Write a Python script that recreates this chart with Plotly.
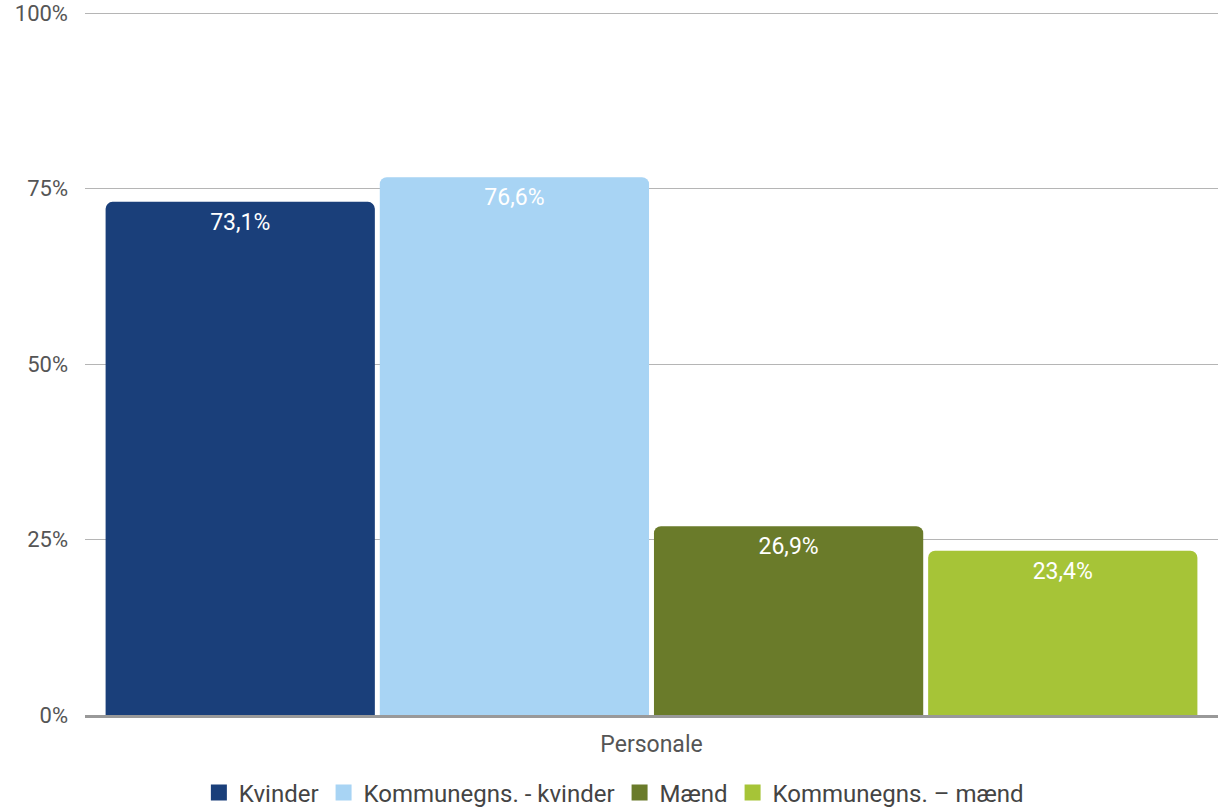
import plotly.graph_objects as go

categories = ["Personale"]
series_names = ["Kvinder", "Kommunegns. - kvinder", "Mænd", "Kommunegns. – mænd"]
series_values = [[73.1], [76.6], [26.9], [23.4]]
colors = ["#1a3f7a", "#a8d4f4", "#6a7b2a", "#a6c437"]
tick_vals = [0, 25, 50, 75, 100]
tick_text = ["0%", "25%", "50%", "75%", "100%"]

fig = go.Figure()
for name, vals, col in zip(series_names, series_values, colors):
    fig.add_trace(go.Bar(
        x=categories, y=vals, name=name, showlegend=False,
        marker=dict(color=col, line=dict(width=0)),
        text=[("%.1f%%" % v).replace(".", ",") for v in vals],
        textposition="inside", insidetextanchor="end",
        textfont=dict(color="white", size=23, family="Roboto"),
        textangle=0,
    ))
for name, col in zip(series_names, colors):
    fig.add_trace(go.Scatter(
        x=categories, y=[None], name=name, mode="markers",
        marker=dict(symbol="square", size=22, color=col),
        showlegend=True,
    ))

fig.update_layout(
    width=1218, height=810,
    margin=dict(l=85, r=0, t=6, b=95),
    paper_bgcolor="white", plot_bgcolor="white",
    barmode="group", bargap=0.032, bargroupgap=0.018, barcornerradius=7,
    font=dict(family="Roboto", color="#555555", size=23),
    showlegend=True,
    legend=dict(orientation="h", xref="container", x=0.504, xanchor="center",
                yref="container", y=0.021, yanchor="middle",
                font=dict(size=24, color="#444444"), itemclick=False,
                itemsizing="trace", itemwidth=30, tracegroupgap=0),
    uniformtext=dict(mode=False),
)
fig.update_yaxes(range=[0, 101], tickvals=tick_vals, ticktext=tick_text,
                 showgrid=True, gridcolor="#b5b5b5", gridwidth=1,
                 zeroline=False, showline=False, ticks="", ticklabelstandoff=16,
                 tickfont=dict(size=22, color="#555555"))
fig.update_xaxes(showline=True, linecolor="#999999", linewidth=3, ticks="",
                 tickfont=dict(size=23, color="#555555"), ticklabelstandoff=6)

fig.write_html("out.html", config={"displayModeBar": False},
               post_script="document.body.style.margin='0';")
